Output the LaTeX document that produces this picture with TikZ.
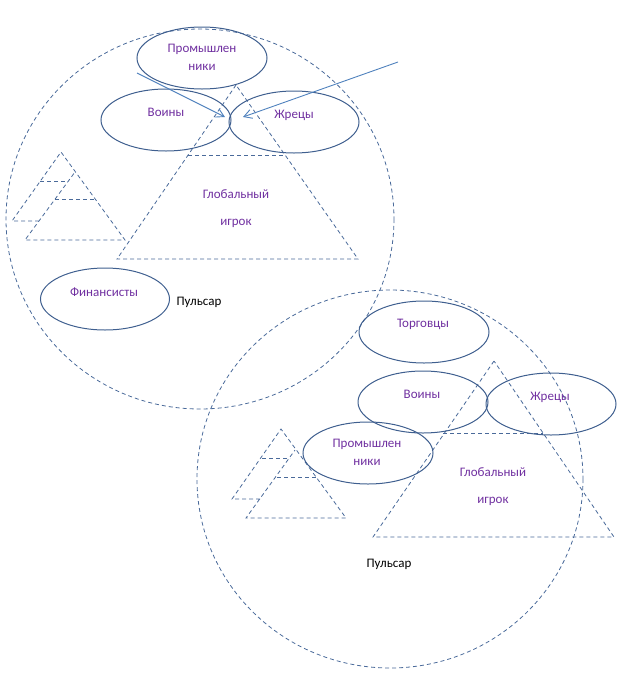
\documentclass[tikz,border=0pt]{standalone}
\usepackage{fontspec}
\setmainfont{Carlito}
\usetikzlibrary{shapes.geometric,arrows.meta}
\definecolor{edge}{HTML}{3F5F8F}
\definecolor{dash}{HTML}{4A6A9A}
\definecolor{arr}{HTML}{4F81BD}
\definecolor{txt}{HTML}{7030A0}
\tikzset{
  pulse/.style={draw=dash,line width=0.8pt,dash pattern=on 4pt off 3pt},
  dline/.style={draw=dash,line width=0.8pt,dash pattern=on 4pt off 3pt},
  oval/.style={ellipse,draw=edge,line width=1pt,minimum width=130pt,minimum height=62pt,inner sep=0pt},
  lab/.style={text=txt,font=\fontsize{13}{15}\selectfont,inner sep=0pt},
  blk/.style={text=black,font=\fontsize{13}{15}\selectfont,inner sep=0pt},
  arrline/.style={draw=arr,line width=0.9pt,-{Straight Barb[length=8pt,width=9pt,line width=0.9pt]}}
}
\begin{document}
\begin{tikzpicture}[x=1pt,y=-1pt]
\useasboundingbox (0,0) rectangle (626,678);
% pulsar circles
\draw[pulse] (200,219) ellipse [x radius=194,y radius=190];
\draw[pulse] (390,479) ellipse [x radius=193,y radius=189];
% big triangle 1
\coordinate (t1a) at (236,85);
\coordinate (t1l) at (117,259);
\coordinate (t1r) at (358,259);
\draw[dline] (t1a) -- (t1l) -- (t1r) -- cycle;
\coordinate (t1hl) at (188,155);
\coordinate (t1hr) at (285,155);
\draw[dline] (t1hl) -- (t1hr);
% small pyramid 1
\coordinate (p1a) at (61,152);
\coordinate (p1l) at (12,221);
\coordinate (p1m) at (39,221);
\coordinate (p1b) at (75,172);
\coordinate (p1bl) at (25,240);
\coordinate (p1br) at (125,240);
\draw[dline] (p1m) -- (p1l) -- (p1a) -- (p1br) -- (p1bl) -- (p1b);
\coordinate (p1h1l) at (40,181); \coordinate (p1h1r) at (68,181);
\coordinate (p1h2l) at (55,199); \coordinate (p1h2r) at (96,199);
\draw[dline] (p1h1l) -- (p1h1r);
\draw[dline] (p1h2l) -- (p1h2r);
% big triangle 2
\coordinate (t2a) at (494,361);
\coordinate (t2l) at (373,537);
\coordinate (t2r) at (614,537);
\draw[dline] (t2a) -- (t2l) -- (t2r) -- cycle;
\coordinate (t2hl) at (443,433);
\coordinate (t2hr) at (543,433);
\draw[dline] (t2hl) -- (t2hr);
% small pyramid 2
\coordinate (p2a) at (281,429);
\coordinate (p2l) at (232,499);
\coordinate (p2m) at (260,499);
\coordinate (p2b) at (295,450);
\coordinate (p2bl) at (246,518);
\coordinate (p2br) at (346,518);
\draw[dline] (p2m) -- (p2l) -- (p2a) -- (p2br) -- (p2bl) -- (p2b);
\coordinate (p2h1l) at (262,458); \coordinate (p2h1r) at (290,458);
\coordinate (p2h2l) at (277,477); \coordinate (p2h2r) at (318,477);
\draw[dline] (p2h1l) -- (p2h1r);
\draw[dline] (p2h2l) -- (p2h2r);
% ellipses circle 1
\node[oval] (prom1) at (202,58) {};
\node[oval] (voin1) at (166,120) {};
\node[oval] (zhr1) at (294,122) {};
\node[oval,minimum width=129pt] (fin1) at (105,299) {};
\node[lab] (prom1t) at (202,49) {Промышлен};
\node[lab] (prom1u) at (202,67) {ники};
\node[lab] (voin1t) at (166,112) {Воины};
\node[lab] (zhr1t) at (294,115) {Жрецы};
\node[lab] (fin1t) at (104,292) {Финансисты};
\node[lab] (glob1t) at (236,194) {Глобальный};
\node[lab] (glob1u) at (236,223) {игрок};
\node[blk] (puls1) at (199,302) {Пульсар};
% arrows
\coordinate (a1s) at (137,73);
\coordinate (a1e) at (225,117);
\coordinate (a2s) at (398,62);
\coordinate (a2e) at (243,117);
\draw[arrline] (a1s) -- (a1e);
\draw[arrline] (a2s) -- (a2e);
% ellipses circle 2
\node[oval] (torg2) at (424,332) {};
\node[oval] (voin2) at (423,402) {};
\node[oval] (zhr2) at (551,404) {};
\node[oval] (prom2) at (368,453) {};
\node[lab] (torg2t) at (423,324) {Торговцы};
\node[lab] (voin2t) at (422,394) {Воины};
\node[lab] (zhr2t) at (550,397) {Жрецы};
\node[lab] (prom2t) at (367,444) {Промышлен};
\node[lab] (prom2u) at (367,462) {ники};
\node[lab] (glob2t) at (493,472) {Глобальный};
\node[lab] (glob2u) at (493,501) {игрок};
\node[blk] (puls2) at (389,564) {Пульсар};
\end{tikzpicture}
\end{document}
